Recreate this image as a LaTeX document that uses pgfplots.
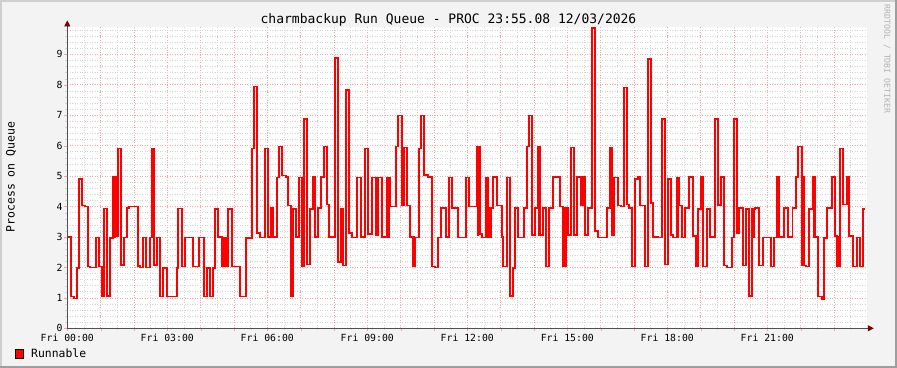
\documentclass[border=0pt]{standalone}
\usepackage{fontspec}
\setmainfont{DejaVu Sans Mono}
\usepackage{pgfplots}
\pgfplotsset{compat=1.18}
\usetikzlibrary{arrows.meta}
\definecolor{rrdback}{RGB}{243,243,243}
\definecolor{shadea}{RGB}{207,207,207}
\definecolor{shadeb}{RGB}{158,158,158}
\definecolor{mgrid}{RGB}{245,165,165}
\definecolor{mingrid}{RGB}{212,212,212}
\definecolor{arrowred}{RGB}{128,0,0}
\definecolor{axisgray}{RGB}{80,80,80}
\begin{document}
\begin{tikzpicture}
\useasboundingbox (0,0) rectangle (897bp,368bp);
\fill[rrdback] (0,0) rectangle (897bp,368bp);
\fill[shadea] (0,366bp) rectangle (897bp,368bp);
\fill[shadea] (0,0) rectangle (2bp,368bp);
\fill[shadeb] (0,0) rectangle (897bp,2bp);
\fill[shadeb] (895bp,0) rectangle (897bp,368bp);
\begin{axis}[
  at={(67.3bp,39.7bp)}, anchor=south west,
  scale only axis, width=800bp, height=301.4bp,
  xmin=67.3, xmax=867.3, ymin=0, ymax=9.9,
  axis background/.style={fill=white},
  axis line style={draw=none},
  clip mode=individual,
  tick pos=left, tick align=outside,
  major tick length=3bp, minor tick length=2bp,
  major tick style={draw=mgrid},
  minor tick style={draw=mingrid},
  xtick={67.3,100.6333,...,850},
  minor xtick={83.9667,117.3,...,860},
  xticklabels={Fri 00:00,,,Fri 03:00,,,Fri 06:00,,,Fri 09:00,,,Fri 12:00,,,Fri 15:00,,,Fri 18:00,,,Fri 21:00,,},
  ytick={0,1,2,3,4,5,6,7,8,9},
  minor ytick={0.2,0.4,0.6,0.8,1.2,1.4,1.6,1.8,2.2,2.4,2.6,2.8,3.2,3.4,3.6,3.8,4.2,4.4,4.6,4.8,5.2,5.4,5.6,5.8,6.2,6.4,6.6,6.8,7.2,7.4,7.6,7.8,8.2,8.4,8.6,8.8,9.2,9.4,9.6,9.8},
  grid=both,
  major grid style={draw=mgrid, dash pattern=on 1bp off 1.5bp, line width=0.55bp},
  minor grid style={draw=mingrid, dash pattern=on 1bp off 1.5bp, line width=0.55bp},
  tick label style={font=\fontsize{9.8bp}{11bp}\selectfont},
  xticklabel style={inner sep=2.5bp},
  yticklabel style={inner sep=1.5bp},
  /pgf/number format/assume math mode=true,
  legend style={at={(-0.0654,-0.0836)}, anchor=west, draw=none, fill=none,
    inner sep=0pt, outer sep=0pt, nodes={inner sep=0pt},
    font=\fontsize{11.4bp}{13bp}\selectfont},
  legend image code/.code={\draw[fill=red,draw=black,line width=0.8bp] (0bp,-4.5bp) rectangle (8bp,4.5bp); \path (15bp,0bp);},
]
\addplot[const plot, color=red, line width=1.7bp, line join=miter] table {
x y
67.3 3.0
70.7 1.04
74 0.98
77 1.97
79 4.9
81.7 4.03
85 4.0
88.3 2.03
90 2.0
95.7 2.98
99 2.03
101.7 1.04
102.6 2.0
103.2 1.04
104 3.94
107.3 1.06
110 2.96
113.3 4.98
114.1 3.0
114.9 4.98
115.7 3.03
117.7 5.91
121.3 2.08
124.3 2.98
127 3.96
129 4.0
137.7 2.05
140 2.0
142.7 2.98
145.7 2.0
150 2.98
151.7 5.91
154.3 2.08
157.3 2.98
160.3 1.04
163.3 1.97
167.3 1.04
176.7 1.97
178.3 3.94
181.7 2.03
185 2.98
193.3 2.03
199.3 2.98
204.3 1.04
206.7 1.97
210 1.04
213.3 1.97
215 3.92
218.3 3.01
221.7 2.03
223.3 2.98
224.5 2.03
225.7 2.98
227 2.03
228.3 3.92
231.7 2.03
240 1.04
246 2.96
251.7 5.91
254 7.94
257.3 3.13
260 2.98
265 5.91
267.7 3.01
271 3.96
273.3 3.01
277 4.95
279.3 5.97
281.7 5.02
285.7 4.98
288.3 4.03
291 1.06
293.3 3.92
296 3.01
299.3 4.95
301.7 2.03
304.3 6.88
307 2.1
310 3.92
312.5 4.98
313.3 3.92
314 4.98
315 3.01
318.3 3.96
320.7 4.98
324 5.97
327.3 4.07
329.3 3.01
332.7 2.98
335 8.87
337.7 2.17
340.7 3.92
343.3 2.06
346 7.83
349 3.14
351.7 2.98
357.3 4.95
360.7 3.01
365 5.91
367.7 3.09
371.7 4.95
376 3.06
378.3 4.95
381.7 3.01
386 2.98
387.3 4.95
388.5 3.0
389.3 4.95
390 4.0
396 5.97
398.3 6.99
402.3 4.03
404.3 5.94
406.7 4.03
410 3.01
412.7 2.03
413.5 3.0
414.2 2.03
415 2.98
419 5.91
420.7 6.99
424 5.04
428.3 4.98
432.3 2.03
435 2.0
438.3 2.98
440.7 3.96
446 3.01
449 4.95
452.3 3.96
457.7 2.98
465.7 4.95
469.3 4.0
476.7 5.97
477.5 3.06
478.3 5.97
480 3.09
482.3 2.98
485.7 4.95
488.3 3.01
489.5 3.96
490.3 3.01
491 3.96
492.7 4.98
496.7 4.03
501.7 3.01
503.3 2.03
506.7 4.95
510 1.07
512.7 1.97
515 3.96
518.3 2.98
524 3.96
526.7 5.97
529 6.99
532.3 3.06
535 3.96
537.7 5.97
538.6 3.06
539.3 5.97
540 3.06
543.3 3.96
546 2.03
549 3.96
553.3 4.98
560 4.0
563.3 2.03
564.3 3.96
565 2.03
565.7 3.96
567.7 3.06
570.7 5.94
574 3.06
576.7 4.98
581 4.03
582.7 4.98
585 3.06
588.3 3.96
591.7 9.86
595 3.2
598.3 2.98
606.7 3.96
610 5.94
612.3 3.06
614.3 4.95
617.7 4.03
620.7 4.0
624 7.91
626.7 4.07
629 3.96
632.3 2.03
635 4.91
637.7 4.98
640 4.03
645 2.03
648.3 8.84
651 4.11
653.3 3.01
657.7 2.98
662.3 6.88
665 2.1
668.3 4.91
671 3.06
673.3 2.98
676.7 4.95
677.5 3.0
678.3 4.95
679.3 4.03
682.3 2.98
685 3.96
689 4.98
693.3 3.03
695.7 2.03
698.3 3.92
701 4.98
702 3.92
702.7 4.98
703.3 2.03
706.7 3.92
710 3.01
715 6.88
718.3 4.05
721 4.98
724 2.06
727.3 2.0
731.7 2.98
734.3 6.88
737.3 3.12
739.3 3.96
743.3 2.06
746 3.92
749 1.07
752.3 3.92
753.5 3.0
754.3 3.92
755 3.96
759 2.06
762.7 2.98
771 2.03
774.3 2.98
776.7 4.98
777.6 3.0
778.4 4.98
779.3 3.01
784 3.96
788.3 3.01
792.5 3.96
796 4.98
798.3 5.97
802.3 2.06
803.3 4.98
804.3 2.06
806 2.03
809.3 3.92
812.7 4.98
813.7 3.0
814.3 4.98
815 3.01
818.3 1.04
821.7 0.96
824.3 2.96
826.7 3.96
831.7 4.98
835 3.03
837.3 2.03
838.3 3.0
839 2.03
840 5.91
842.7 4.07
846.7 4.98
849 3.03
852.7 2.03
856.7 2.98
860 2.03
862.7 3.92
865 3.92
};
\addlegendentry{Runnable}
\draw[axisgray, line width=0.8bp, -{Triangle[color=arrowred,length=6bp,width=6bp]}] (rel axis cs:0,0) -- ([yshift=6.5bp]rel axis cs:0,1);
\draw[axisgray, line width=0.8bp, -{Triangle[color=arrowred,length=6bp,width=6bp]}] (rel axis cs:0,0) -- ([xshift=6.5bp]rel axis cs:1,0);
\end{axis}
\node[font=\fontsize{13bp}{15bp}\selectfont] at (448.5bp,348bp) {charmbackup Run Queue - PROC 23:55.08 12/03/2026};
\node[rotate=90, font=\fontsize{11.5bp}{13bp}\selectfont] at (11bp,191bp) {Process on Queue};
\node[rotate=-90, font=\fontsize{8.2bp}{9bp}\selectfont, text=black!30] at (887bp,309bp) {RRDTOOL / TOBI OETIKER};
\end{tikzpicture}
\end{document}
